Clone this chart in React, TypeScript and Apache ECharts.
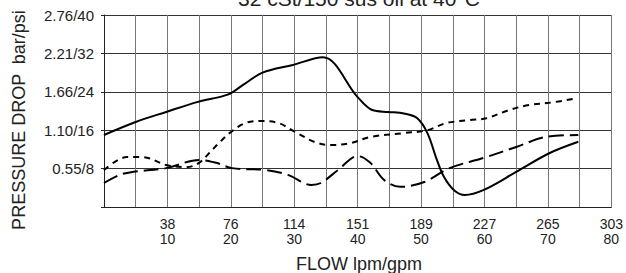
import React, { useEffect, useRef } from "react";
import * as echarts from "echarts";

const titleText = "32 cSt/150 sus oil at 40°C";
const xAxisName = "FLOW lpm/gpm";
const yAxisName = "PRESSURE DROP  bar/psi";

// x tick labels: gpm -> lpm
const gpmTicks = [10, 20, 30, 40, 50, 60, 70, 80];
const lpmTicks = ["38", "76", "114", "151", "189", "227", "265", "303"];
// y tick labels: psi -> "bar/psi"
const psiTicks = [8, 16, 24, 32, 40];
const yTickLabels = ["0.55/8", "1.10/16", "1.66/24", "2.21/32", "2.76/40"];

// series: [gpm, psi]
const solidSeries: [number, number][] = [
  [0, 15], [5, 17.7], [9.8, 19.8], [14.8, 21.9], [19.5, 23.4], [22, 25.5],
  [25, 28], [29.8, 29.6], [34.5, 31.2], [40, 22.9], [42.3, 20.2],
  [44.8, 19.8], [47.3, 19.5], [49.4, 18.5], [51, 15.4], [52.5, 9.8],
  [53.6, 6.3], [55.2, 3.5], [56.9, 2.5], [59.8, 3.5], [65, 7.3],
  [70.2, 11.2], [74.8, 13.6],
];
const shortDashSeries: [number, number][] = [
  [0, 7.7], [3.6, 10.4], [6.1, 10.4], [9.8, 8.75], [13, 8.3], [15, 9.2],
  [16.6, 11.25], [18.1, 13.3], [20, 15.6], [22.3, 17.5], [24.8, 17.9],
  [27.5, 17.5], [30.2, 15.6], [33.3, 13.5], [35.8, 12.9], [38.9, 13.3],
  [42, 14.6], [47.3, 15.4], [51, 16], [54, 17.5], [57.7, 18.1],
  [60.3, 18.5], [63.9, 20.2], [67, 21.25], [70.2, 21.7], [74, 22.5],
];
const longDashSeries: [number, number][] = [
  [0, 5], [2.5, 6.7], [4.5, 7.3], [9.8, 8.1], [15, 9.8], [17.7, 9.2],
  [20.2, 8.1], [25.5, 7.7], [29, 6.7], [32.7, 4.6], [34.2, 5], [36.9, 7.7],
  [40, 10.6], [42, 9.2], [44.2, 5.6], [46.7, 4.2], [50.5, 5.2], [54.5, 8.1],
  [59.8, 10.2], [65, 12.5], [69.7, 14.6], [74.8, 15],
];

const FONT = "'Liberation Sans', Arial, sans-serif";
const TXT = "#222";

export default function App() {
  const ref = useRef<HTMLDivElement>(null);
  useEffect(() => {
    if (!ref.current) return;
    const chart = echarts.init(ref.current, undefined, { renderer: "svg" });
    const lineBase = (name: string, data: [number, number][], type: any) => ({
      name,
      type: "line",
      data,
      smooth: 0.35,
      symbol: "none",
      lineStyle: { color: "#000", width: 2, type },
    });
    chart.setOption({
      animation: false,
      backgroundColor: "#fff",
      textStyle: { fontFamily: FONT },
      grid: { left: 104, right: 11, top: 15, bottom: 66 },
      graphic: [
        {
          type: "text",
          x: 359,
          y: -2,
          style: {
            text: titleText,
            font: `21px ${FONT}`,
            fill: TXT,
            textAlign: "center",
            textVerticalAlign: "middle",
          },
        },
        {
          type: "text",
          x: 359,
          y: 264,
          style: {
            text: xAxisName,
            font: `18px ${FONT}`,
            fill: TXT,
            textAlign: "center",
            textVerticalAlign: "middle",
          },
        },
        {
          type: "text",
          x: 19,
          y: 120,
          rotation: Math.PI / 2,
          style: {
            text: yAxisName,
            font: `18px ${FONT}`,
            fill: TXT,
            textAlign: "center",
            textVerticalAlign: "middle",
          },
        },
      ],
      xAxis: {
        type: "value",
        min: 0,
        max: 80,
        interval: 5,
        axisLine: { show: true, lineStyle: { color: "#222", width: 1 } },
        axisTick: { show: false },
        splitLine: { show: true, lineStyle: { color: "#777", width: 1 } },
        axisLabel: {
          margin: 9,
          fontSize: 14,
          lineHeight: 15,
          color: TXT,
          fontFamily: FONT,
          formatter: (v: number) => {
            const i = gpmTicks.indexOf(v);
            return i >= 0 ? `${lpmTicks[i]}\n${gpmTicks[i]}` : "";
          },
        },
      },
      yAxis: {
        type: "value",
        min: 0,
        max: 40,
        interval: 8,
        axisLine: { show: true, lineStyle: { color: "#222", width: 1 } },
        axisTick: { show: true, length: 3, lineStyle: { color: "#222" } },
        splitLine: { show: true, lineStyle: { color: "#333", width: 1 } },
        axisLabel: {
          margin: 10,
          fontSize: 15,
          color: TXT,
          fontFamily: FONT,
          formatter: (v: number) => {
            const i = psiTicks.indexOf(v);
            return i >= 0 ? yTickLabels[i] : "";
          },
        },
      },
      series: [
        lineBase("solid", solidSeries, "solid"),
        lineBase("short", shortDashSeries, [6, 5]),
        lineBase("long", longDashSeries, [15, 6]),
      ],
    });
    return () => chart.dispose();
  }, []);
  return (
    <div
      ref={ref}
      style={{ width: 626, height: 273, position: "fixed", left: 0, top: 0 }}
    />
  );
}
